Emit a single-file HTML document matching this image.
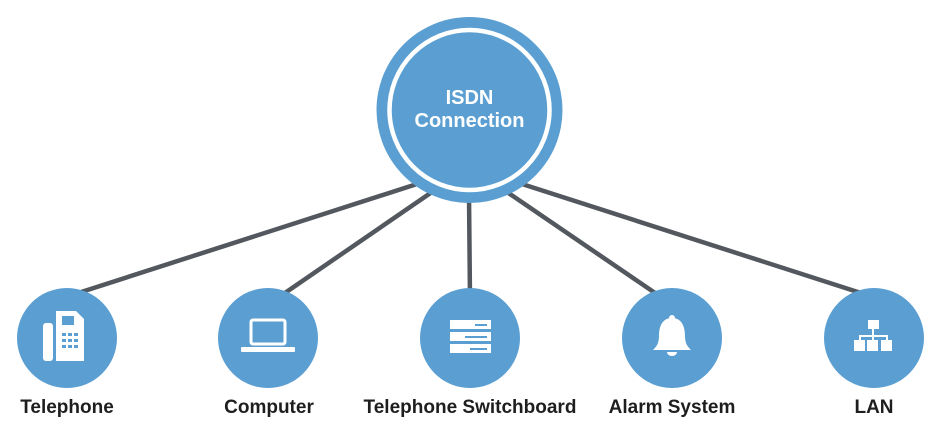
<!DOCTYPE html>
<html><head><meta charset="utf-8"><style>
html,body{margin:0;padding:0;background:#fff;}
svg{display:block;}
text{font-family:"Liberation Sans",sans-serif;font-weight:bold;}
</style></head><body>
<svg width="942" height="436" viewBox="0 0 942 436" xmlns="http://www.w3.org/2000/svg">
<g stroke="#53575e" stroke-width="4.5" stroke-linecap="round">
<line x1="417" y1="184" x2="75" y2="294"/>
<line x1="432" y1="192" x2="282" y2="295"/>
<line x1="469" y1="195" x2="470" y2="300"/>
<line x1="507" y1="192" x2="658" y2="295"/>
<line x1="522" y1="184" x2="864" y2="294"/>
</g>
<circle cx="469.5" cy="110" r="93" fill="#5b9fd2"/>
<circle cx="469.5" cy="110" r="80" fill="none" stroke="#fff" stroke-width="4.5"/>
<text x="469.5" y="104" fill="#fff" font-size="20" text-anchor="middle">ISDN</text>
<text x="469.5" y="127" fill="#fff" font-size="20" text-anchor="middle">Connection</text>
<g fill="#5b9fd2">
<circle cx="67" cy="338" r="50"/>
<circle cx="268" cy="338" r="50"/>
<circle cx="470" cy="338" r="50"/>
<circle cx="672" cy="338" r="50"/>
<circle cx="874" cy="338" r="50"/>
</g>
<g fill="#fff">
<rect x="43" y="323" width="10" height="38" rx="3"/>
<path d="M56 311 h20 l8 8 v42 h-28 z"/>
</g>
<g fill="#5b9fd2">
<rect x="62" y="316" width="12" height="9"/>
<rect x="62" y="333" width="4" height="3"/><rect x="68" y="333" width="4" height="3"/><rect x="74" y="333" width="4" height="3"/>
<rect x="62" y="339" width="4" height="3"/><rect x="68" y="339" width="4" height="3"/><rect x="74" y="339" width="4" height="3"/>
<rect x="62" y="345" width="4" height="3"/><rect x="68" y="345" width="4" height="3"/><rect x="74" y="345" width="4" height="3"/>
</g>
<rect x="251" y="320" width="34" height="24" rx="2" fill="none" stroke="#fff" stroke-width="3"/>
<rect x="241" y="347" width="54" height="5" rx="1" fill="#fff"/>
<g fill="#fff">
<rect x="450" y="320" width="41" height="9"/>
<rect x="450" y="332" width="41" height="9"/>
<rect x="450" y="344" width="41" height="9"/>
</g>
<g fill="#5b9fd2">
<rect x="475" y="324" width="12" height="2"/>
<rect x="465" y="336" width="22" height="2"/>
<rect x="470" y="348" width="17" height="2"/>
</g>
<g fill="#fff">
<circle cx="672" cy="318" r="3"/>
<path d="M672 318 c-10 0 -13 9 -13 18 c0 8 -3 11 -6 14 h38 c-3 -3 -6 -6 -6 -14 c0 -9 -3 -18 -13 -18 z"/>
<path d="M667 352 a5 4 0 0 0 10 0 z"/>
</g>
<g fill="#fff">
<rect x="868" y="320" width="11" height="9"/>
<rect x="872" y="329" width="2" height="7"/>
<rect x="859" y="335" width="29" height="2"/>
<rect x="859" y="335" width="2" height="5"/><rect x="872" y="335" width="2" height="5"/><rect x="886" y="335" width="2" height="5"/>
<rect x="854" y="340" width="11" height="11"/>
<rect x="867" y="340" width="11" height="11"/>
<rect x="881" y="340" width="11" height="11"/>
</g>
<g fill="#1e1e1e" font-size="19" text-anchor="middle">
<text x="67" y="413">Telephone</text>
<text x="269" y="413">Computer</text>
<text x="470" y="413">Telephone Switchboard</text>
<text x="672" y="413">Alarm System</text>
<text x="874" y="413">LAN</text>
</g>
</svg>
</body></html>
